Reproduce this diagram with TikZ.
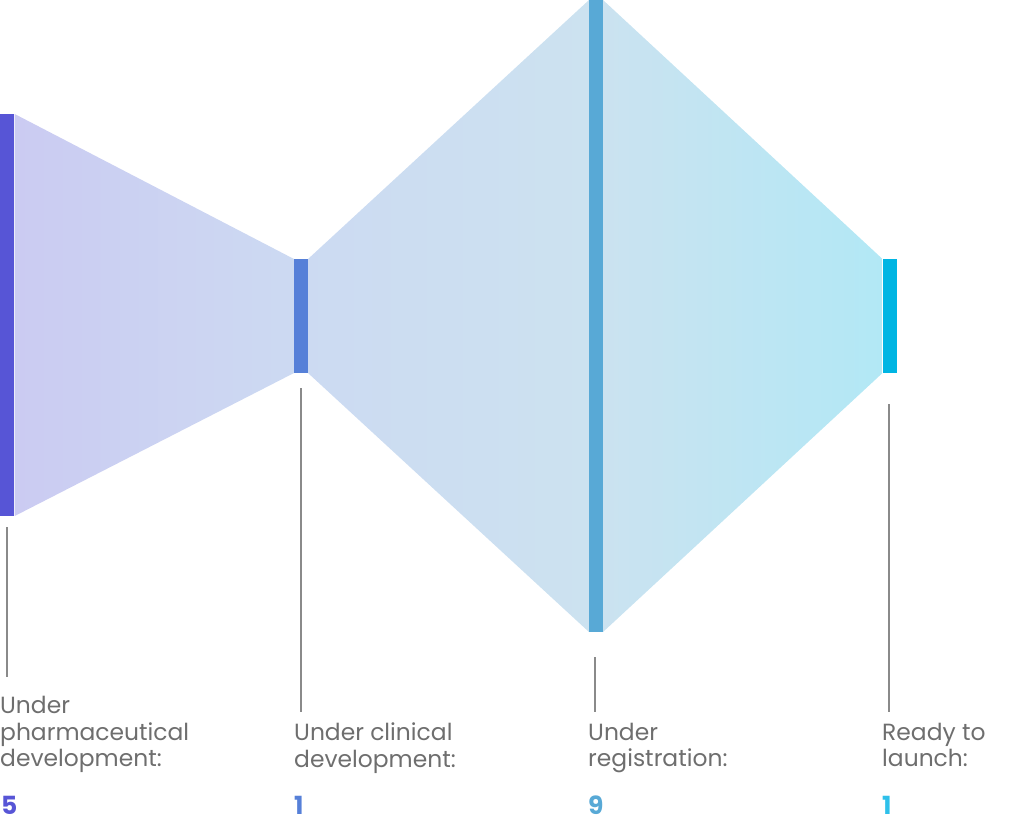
\documentclass[tikz,border=0pt]{standalone}
\usepackage{fontspec}
\setmainfont{Poppins}
\definecolor{cA}{HTML}{5755D6}
\definecolor{cB}{HTML}{5680D8}
\definecolor{cC}{HTML}{58A9D6}
\definecolor{cD}{HTML}{00B5E3}
\definecolor{nD}{HTML}{2EC0EA}
\definecolor{fillL}{HTML}{CBCBF2}
\definecolor{fillMa}{HTML}{CCDAF2}
\definecolor{fillMb}{HTML}{CCE2F0}
\definecolor{fillR}{HTML}{B2E8F5}
\definecolor{txt}{HTML}{6E6E6E}
\definecolor{rule}{HTML}{8A8A8A}
\pgfdeclarehorizontalshading{funnelshade}{100bp}{color(0bp)=(fillL); color(25bp)=(fillL); color(41.4bp)=(fillMa); color(58.1bp)=(fillMb); color(75bp)=(fillR); color(100bp)=(fillR)}
\tikzset{
  bar/.style={draw=none, inner sep=0pt, outer sep=0pt, minimum width=14pt},
  lead/.style={draw=rule, line width=1.1pt},
  lbl/.style={anchor=north west, inner sep=0pt, align=left, text=txt, font=\fontsize{23.4}{26.5}\selectfont},
  num/.style={anchor=north west, inner sep=0pt, font=\fontsize{25}{26}\selectfont\bfseries},
}
\begin{document}
\begin{tikzpicture}[x=1pt,y=-1pt]
\useasboundingbox (0,0) rectangle (1024,820);
% funnel shapes with continuous horizontal gradient
\shade[shading=funnelshade, shading angle=0]
  (14.7,114) -- (294,259) -- (294,373) -- (14.7,516) -- cycle
  (308,259) -- (589,0) -- (589,632) -- (308,373) -- cycle
  (603,0) -- (882.5,259) -- (882.5,373) -- (603,632) -- cycle;
% bars
\node[bar, fill=cA, minimum height=402pt] (b1) at (7.35,315) {};
\node[bar, fill=cB, minimum height=114pt] (b2) at (301,316) {};
\node[bar, fill=cC, minimum height=632pt] (b3) at (596,316) {};
\node[bar, fill=cD, minimum height=114pt, minimum width=14.5pt] (b4) at (889.75,316) {};
% leader line ends
\coordinate (t1) at (7,527);   \coordinate (e1) at (7,677);
\coordinate (t2) at (301,388); \coordinate (e2) at (301,712);
\coordinate (t3) at (595,657); \coordinate (e3) at (595,712);
\coordinate (t4) at (889,404); \coordinate (e4) at (889,712);
\draw[lead] (t1) -- (e1);
\draw[lead] (t2) -- (e2);
\draw[lead] (t3) -- (e3);
\draw[lead] (t4) -- (e4);
% labels
\node[lbl] (l1) at (0,696) {Under\\pharmaceutical\\development:};
\node[lbl] (l2) at (294,722.5) {Under clinical\\development:};
\node[lbl] (l3) at (588,722.5) {Under\\registration:};
\node[lbl] (l4) at (882,722.5) {Ready to\\launch:};
% numbers
\node[num, text=cA] (n1) at (1,796) {5};
\node[num, text=cB] (n2) at (294,796) {1};
\node[num, text=cC] (n3) at (588,796) {9};
\node[num, text=nD] (n4) at (882,796) {1};
\end{tikzpicture}
\end{document}
